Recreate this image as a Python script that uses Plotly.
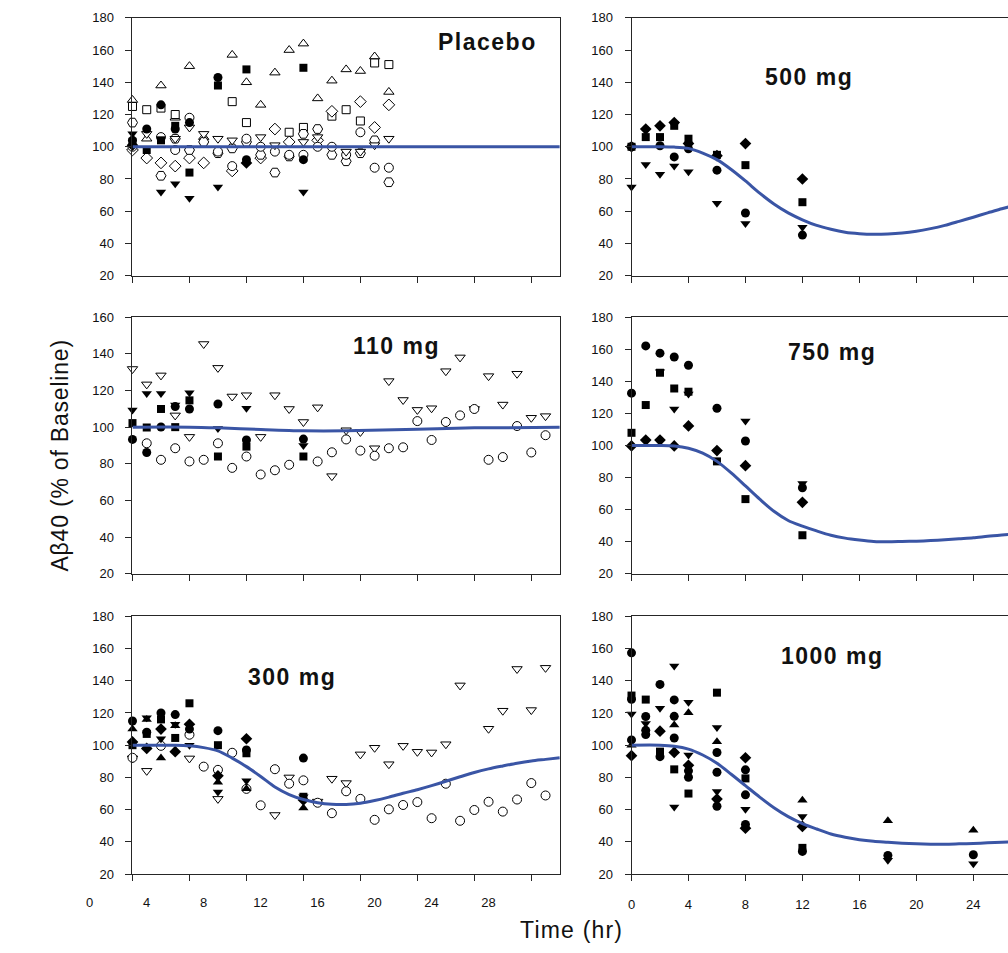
import plotly.graph_objects as go

W, H = 1008, 953
FONT = "Liberation Sans, Arial, Helvetica, sans-serif"
FIT_COLOR = "#3A55A5"
AXIS_COLOR = "#262626"

# ---------------------------------------------------------------- sampling times (hr)
T_SPARSE = [0, 1, 2, 3, 4, 6, 8, 12]
T_HOURLY_19 = [0, 1, 2, 3, 4, 5, 6, 7, 8, 9, 10, 11, 12, 13, 14, 15, 16, 17, 18]
T_HOURLY_30 = [0, 1, 2, 3, 4, 5, 6, 7, 8, 9, 10, 11, 12, 13, 14, 15, 16, 17, 18, 19,
               20, 21, 22, 23, 24, 25, 26, 27, 28, 29]

# ---------------------------------------------------------------- Placebo
PL_OPEN_TRI_UP = [129, 105, 138, 118, 150, 106, None, 157, 140, 126, 146, 160, 164, 130, 141, 148, 147, 156, 134]
PL_OPEN_SQUARE = [125, 123, 124, 120, None, None, None, 128, 115, None, None, 109, 112, None, 119, 123, 116, 152, 151]
PL_OPEN_DIAMOND = [98, 93, 90, 88, 93, 90, None, 85, None, 93, 111, 103, None, 104, 122, None, 128, 112, 126]
PL_OPEN_HEXAGON = [115, None, 82, 105, 98, 103, 96, 99, 103, 95, 84, 94, 108, 111, 95, 91, 96, 104, 78]
PL_OPEN_CIRCLE = [100, None, 106, 98, 118, None, 97, 88, 105, 100, 97, 95, 95, 100, 100, 95, 109, 87, 87]
PL_OPEN_TRI_DOWN = [None, 108, None, 105, 112, 108, 105, 104, None, 106, 101, None, 103, 106, None, 97, 97, 101, 105]
PL_FILL_CIRCLE = [104, 111, 126, 111, 115, 143, 92, 92]
PL_FILL_SQUARE = [103, 98, 104, 113, 84, 138, 148, 149]
PL_FILL_TRI_DOWN = [108, None, 72, 77, 68, 75, None, 72]
PL_FILL_DIAMOND = [101, None, None, None, None, None, 90, None]
PL_FIT_T = [0, 30]
PL_FIT_V = [100, 100]

# ---------------------------------------------------------------- 110 mg
D110_OPEN_TRI_DOWN = [131.7, 123.3, 128.2, 106.4, 94.7, 145.3, 132.3, 116.7, 117.4, 94.7,
                      117.4, 109.9, 102.8, 110.8, 73.3, 98.3, 97.4, 88.5, 125.1, 114.8,
                      109.4, 110.3, 130.5, 138.0, 109.9, 127.8, 112.3, 129.1, 105.1, 106.0]
D110_OPEN_CIRCLE = [None, 91.2, 82.2, 88.5, 81.3, 82.2, 91.2, 77.8, 84.0, 74.2,
                    76.5, 79.5, None, 81.3, 86.3, 93.3, 87.2, 84.4, 88.5, 89.0,
                    103.3, 93.0, 102.8, 106.4, 109.9, 82.2, 83.7, 100.6, 86.2, 95.6]
D110_FILL_TRI_DOWN = [109.4, 118.3, 118.3, 112.0, 118.7, 99.2, 110.3, 90.0]
D110_FILL_SQUARE = [102.2, 99.8, 109.9, 100.0, 114.6, 84.0, 89.4, 84.0]
D110_FILL_CIRCLE = [93.3, 86.2, 100.1, 111.2, 109.9, 112.6, 93.0, 93.5]
F110_T = [0, 4, 6, 9, 12, 15, 20, 24, 30]
F110_V = [100, 100, 99.6, 98.7, 98.0, 98.0, 98.9, 99.6, 99.9]

# ---------------------------------------------------------------- 300 mg
D300_OPEN_CIRCLE = [92.2, None, 99.6, None, 106.5, 86.7, 84.7, 95.3, 72.9, 62.7,
                    85.1, 76.1, 78.2, 64.3, 57.8, 71.4, 66.7, 53.7, 60.2, 62.9,
                    64.7, 54.7, 76.1, 53.1, 59.8, 64.9, 58.8, 66.3, 76.5, 68.8]
D300_OPEN_TRI_DOWN = [91.8, 84.1, None, None, 91.8, None, 66.7, None, None, None,
                      56.7, 80.0, None, 65.0, 79.2, 76.5, 94.3, 98.4, 88.2, 99.6,
                      95.9, 95.5, 100.6, 137.1, None, 110.2, 121.4, 147.3, 121.8, 148.0]
D300_FILL_CIRCLE = [115, 108, 120, 119, 110, 109, 97, 92]
D300_FILL_SQUARE = [100, 107, 116, 104.5, 126, 100, 95, 68]
D300_FILL_TRI_UP = [110, 116, 92, 112, None, 77, 73, 61]
D300_FILL_TRI_DOWN = [None, 117, 104, 113, 100, 71, 78, 68]
D300_FILL_DIAMOND = [102, 98, 110, 96, 113, 81, 104, 66]
F300_T = [0, 1, 2, 3, 4, 5, 6, 7, 8, 9, 10, 11, 12, 13, 14, 15, 16, 17, 18, 19,
          20, 21, 22, 23, 24, 25, 26, 27, 28, 29, 30]
F300_V = [100, 100, 100, 100, 99.6, 98.5, 96.5, 92.0, 86.7, 80.6, 74.1, 69.4, 66.3, 64.3,
          63.3, 63.2, 64.0, 65.7, 67.8, 70.2, 72.4, 74.9, 77.6, 80.4, 83.1, 85.3, 87.1,
          88.8, 90.2, 91.2, 92.2]

# ---------------------------------------------------------------- 500 mg
D500_FILL_CIRCLE = [100, None, 100.6, 93.7, 98.8, 85.5, 58.9, 45.2]
D500_FILL_SQUARE = [100, 106, 106, 113, 105, 95, 88.6, 65.6]
D500_FILL_TRI_DOWN = [75, 89, 83, 88, 84.5, 65, 52.4, 50]
D500_FILL_DIAMOND = [100, 111, 113, 115, 102, 94.5, 102, 80]
F500_T = [0, 2, 3, 4, 5, 6, 7, 8, 9, 10, 11, 12, 13, 14, 15, 16, 17, 18, 19, 20,
          21, 22, 23, 24, 25, 26, 27]
F500_V = [100, 100, 99.8, 99.0, 96.1, 92.0, 85.9, 78.8, 71.2, 64.5, 59.0, 54.7, 51.2,
          48.8, 47.0, 46.1, 45.7, 45.9, 46.5, 47.6, 49.2, 51.2, 53.7, 56.3, 59.0, 61.5, 64.0]

# ---------------------------------------------------------------- 750 mg
D750_FILL_CIRCLE = [132.6, 162.0, 157.5, 155.1, 150.0, 123.2, 102.8, 73.7]
D750_FILL_SQUARE = [107.9, 125.2, 145.3, 135.5, 133.5, 90.1, 66.6, 44.1]
D750_FILL_DIAMOND = [99.7, 103.4, 103.4, 99.7, 112.2, 96.8, 87.4, 64.6]
D750_FILL_TRI_DOWN = [None, None, 146.0, 122.8, 132.0, None, 115.2, 76.4]
F750_T = [0, 2, 3, 4, 5, 6, 7, 8, 9, 10, 11, 12, 13, 14, 15, 16, 17, 18, 19, 20,
          21, 22, 23, 24, 25, 26, 27]
F750_V = [100, 100, 99.7, 98.3, 95.2, 90.1, 82.9, 74.8, 66.6, 59.0, 53.3, 49.8, 46.8,
          44.1, 42.3, 41.1, 40.2, 40.0, 40.2, 40.4, 40.8, 41.3, 41.9, 42.5, 43.5, 44.3, 45.0]

# ---------------------------------------------------------------- 1000 mg
D1000_CIRCLE_T = [0, 0, 0, 1, 1, 1, 2, 2, 3, 3, 3, 4, 4, 6, 6, 6, 8, 8, 8, 12, 18, 24]
D1000_CIRCLE_V = [157.3, 128.5, 103.3, 117.8, 109.2, 106.6, 137.7, 92.9, 128.1, 117.9, 104.5,
                  84.1, 80.1, 95.5, 83.2, 62.1, 84.7, 69.2, 50.8, 34.1, 31.6, 32.0]
D1000_SQUARE_T = [0, 1, 2, 3, 4, 6, 8, 12]
D1000_SQUARE_V = [130.8, 128.3, 96.0, 85.0, 70.0, 132.6, 79.4, 36.3]
D1000_TRI_DOWN_T = [0, 1, 2, 3, 3, 4, 4, 6, 6, 8, 12, 18, 24]
D1000_TRI_DOWN_V = [119.4, 113.5, 123.0, 149.2, 61.6, 126.7, 93.9, 111.0, 71.2, 60.3, 55.7, 28.6, 26.5]
D1000_TRI_UP_T = [0, 3, 4, 6, 12, 18, 24]
D1000_TRI_UP_V = [100.0, 112.6, 120.2, 102.2, 65.9, 53.1, 47.3]
D1000_DIAMOND_T = [0, 2, 3, 4, 6, 8, 8, 12]
D1000_DIAMOND_V = [93.5, 108.7, 95.5, 87.5, 66.6, 92.2, 48.5, 49.6]
F1000_T = [0, 2, 3, 4, 5, 6, 7, 8, 9, 10, 11, 12, 13, 14, 15, 16, 17, 18, 19, 20,
           21, 22, 23, 24, 25, 26, 27]
F1000_V = [100, 100, 99.4, 97.6, 93.9, 88.8, 82.0, 74.9, 67.8, 61.2, 55.7, 51.4, 48.0,
           44.9, 42.9, 41.4, 40.4, 39.8, 39.2, 38.8, 38.6, 38.6, 38.8, 39.0, 39.4, 39.8, 40.2]

# ---------------------------------------------------------------- tick labels
X_TICKS = [0, 4, 8, 12, 16, 20, 24, 28]
Y_TICKS_180 = [20, 40, 60, 80, 100, 120, 140, 160, 180]
Y_TICKS_160 = [20, 40, 60, 80, 100, 120, 140, 160]

# ---------------------------------------------------------------- marker styles
_FILL = dict(color="black", line=dict(width=0))
_OPEN = dict(color="white", line=dict(color="black", width=1))
MARKERS = {
    "fc": dict(symbol="circle", size=9, **_FILL),
    "fs": dict(symbol="square", size=8, **_FILL),
    "fu": dict(symbol="triangle-up", size=9, **_FILL),
    "fd": dict(symbol="triangle-down", size=9, **_FILL),
    "fk": dict(symbol="diamond", size=9, **_FILL),
    "oc": dict(symbol="circle", size=9, **_OPEN),
    "os": dict(symbol="square", size=8, **_OPEN),
    "ou": dict(symbol="triangle-up", size=9, **_OPEN),
    "od": dict(symbol="triangle-down", size=9, **_OPEN),
    "ok": dict(symbol="diamond", size=9, **_OPEN),
    "oh": dict(symbol="hexagon2", size=10, **_OPEN),
}

PANELS = [
    dict(label="Placebo", label_px=(485, 36), yrange=(20, 180), yticks=Y_TICKS_180,
         series=[("ou", T_HOURLY_19, PL_OPEN_TRI_UP), ("os", T_HOURLY_19, PL_OPEN_SQUARE),
                 ("ok", T_HOURLY_19, PL_OPEN_DIAMOND), ("oh", T_HOURLY_19, PL_OPEN_HEXAGON),
                 ("oc", T_HOURLY_19, PL_OPEN_CIRCLE), ("od", T_HOURLY_19, PL_OPEN_TRI_DOWN),
                 ("fd", T_SPARSE, PL_FILL_TRI_DOWN), ("fk", T_SPARSE, PL_FILL_DIAMOND),
                 ("fs", T_SPARSE, PL_FILL_SQUARE), ("fc", T_SPARSE, PL_FILL_CIRCLE)],
         fit=(PL_FIT_T, PL_FIT_V)),
    dict(label="500 mg", label_px=(808, 71), yrange=(20, 180), yticks=Y_TICKS_180,
         series=[("fd", T_SPARSE, D500_FILL_TRI_DOWN), ("fk", T_SPARSE, D500_FILL_DIAMOND),
                 ("fs", T_SPARSE, D500_FILL_SQUARE), ("fc", T_SPARSE, D500_FILL_CIRCLE)],
         fit=(F500_T, F500_V)),
    dict(label="110 mg", label_px=(394, 344), yrange=(20, 160), yticks=Y_TICKS_160,
         series=[("od", T_HOURLY_30, D110_OPEN_TRI_DOWN), ("oc", T_HOURLY_30, D110_OPEN_CIRCLE),
                 ("fd", T_SPARSE, D110_FILL_TRI_DOWN), ("fs", T_SPARSE, D110_FILL_SQUARE),
                 ("fc", T_SPARSE, D110_FILL_CIRCLE)],
         fit=(F110_T, F110_V)),
    dict(label="750 mg", label_px=(831, 351), yrange=(20, 180), yticks=Y_TICKS_180,
         series=[("fd", T_SPARSE, D750_FILL_TRI_DOWN), ("fk", T_SPARSE, D750_FILL_DIAMOND),
                 ("fs", T_SPARSE, D750_FILL_SQUARE), ("fc", T_SPARSE, D750_FILL_CIRCLE)],
         fit=(F750_T, F750_V)),
    dict(label="300 mg", label_px=(289, 681), yrange=(20, 180), yticks=Y_TICKS_180,
         series=[("od", T_HOURLY_30, D300_OPEN_TRI_DOWN), ("oc", T_HOURLY_30, D300_OPEN_CIRCLE),
                 ("fu", T_SPARSE, D300_FILL_TRI_UP), ("fd", T_SPARSE, D300_FILL_TRI_DOWN),
                 ("fk", T_SPARSE, D300_FILL_DIAMOND), ("fs", T_SPARSE, D300_FILL_SQUARE),
                 ("fc", T_SPARSE, D300_FILL_CIRCLE)],
         fit=(F300_T, F300_V)),
    dict(label="1000 mg", label_px=(832, 659), yrange=(20, 180), yticks=Y_TICKS_180,
         series=[("fu", D1000_TRI_UP_T, D1000_TRI_UP_V), ("fd", D1000_TRI_DOWN_T, D1000_TRI_DOWN_V),
                 ("fk", D1000_DIAMOND_T, D1000_DIAMOND_V), ("fs", D1000_SQUARE_T, D1000_SQUARE_V),
                 ("fc", D1000_CIRCLE_T, D1000_CIRCLE_V)],
         fit=(F1000_T, F1000_V)),
]

# plot-area geometry in pixels
ROW_PX = [(11, 273), (315, 576), (619, 881)]
COL_PX = [(129, 558), (630, 1008)]
PX_PER_HR = 14.3
X_RANGE = [(0, 30), (0, (COL_PX[1][1] - COL_PX[1][0]) / PX_PER_HR)]

fig = go.Figure()
layout = dict(
    width=W, height=H, margin=dict(l=0, r=0, t=0, b=0),
    paper_bgcolor="white", plot_bgcolor="rgba(0,0,0,0)",
    showlegend=False, font=dict(family=FONT, color="#111111"),
    annotations=[],
)

tick_font = dict(family=FONT, size=13, color="#111111")

for i, p in enumerate(PANELS):
    row, col = divmod(i, 2)
    sfx = "" if i == 0 else str(i + 1)
    xa, ya = "x" + sfx, "y" + sfx
    for key, t, v in p["series"]:
        fig.add_trace(go.Scatter(x=t, y=v, mode="markers", marker=MARKERS[key],
                                 xaxis=xa, yaxis=ya, cliponaxis=False, hoverinfo="x+y"))
    ft, fv = p["fit"]
    fig.add_trace(go.Scatter(x=ft, y=fv, mode="lines",
                             line=dict(color=FIT_COLOR, width=3, shape="spline", smoothing=0.8),
                             xaxis=xa, yaxis=ya, hoverinfo="skip"))

    x0, x1 = COL_PX[col]
    y0, y1 = ROW_PX[row]
    layout["xaxis" + sfx] = dict(
        domain=[x0 / W, x1 / W], range=list(X_RANGE[col]), anchor=ya,
        tickmode="array", tickvals=X_TICKS, ticks="outside", ticklen=6, tickcolor=AXIS_COLOR,
        showline=True, linecolor=AXIS_COLOR, linewidth=1, mirror=True,
        showgrid=False, zeroline=False,
        showticklabels=(row == 2 and col == 1), tickfont=tick_font, ticklabelstandoff=12,
    )
    layout["yaxis" + sfx] = dict(
        domain=[1 - y1 / H, 1 - y0 / H], range=list(p["yrange"]), anchor=xa,
        tickmode="array", tickvals=p["yticks"], ticks="outside", ticklen=6, tickcolor=AXIS_COLOR,
        showline=True, linecolor=AXIS_COLOR, linewidth=1, mirror=(col == 0),
        showgrid=False, zeroline=False, tickfont=tick_font, ticklabelstandoff=9,
    )
    cx, cy = p["label_px"]
    layout["annotations"].append(dict(
        text='<span style="letter-spacing:1.5px">%s</span>' % p["label"],
        x=cx / W, y=1 - cy / H, xref="paper", yref="paper",
        xanchor="center", yanchor="middle", showarrow=False,
        font=dict(family=FONT, size=23, color="#111111", weight="bold"),
    ))

# time labels under the lower-left panel sit on their own axis, offset from the tick marks
fig.add_trace(go.Scatter(x=[], y=[], xaxis="x7", yaxis="y5", mode="markers", hoverinfo="skip"))
LABEL_AXIS_LEFT_PX = 86
layout["xaxis7"] = dict(
    domain=[LABEL_AXIS_LEFT_PX / W, (LABEL_AXIS_LEFT_PX + 30 * PX_PER_HR) / W],
    range=[0, 30], anchor="y5", tickmode="array", tickvals=X_TICKS,
    ticks="", showline=False, showgrid=False, zeroline=False,
    tickfont=tick_font, ticklabelstandoff=19,
)

layout["annotations"] += [
    dict(text='<span style="letter-spacing:0.8px">A\u03b240 (% of Baseline)</span>',
         x=56 / W, y=1 - 455 / H, xref="paper", yref="paper",
         textangle=-90, showarrow=False, xanchor="center", yanchor="middle",
         font=dict(family=FONT, size=23, color="#111111")),
    dict(text='<span style="letter-spacing:1.2px">Time (hr)</span>', x=570 / W, y=1 - 938 / H,
         xref="paper", yref="paper", showarrow=False, xanchor="center", yanchor="middle",
         font=dict(family=FONT, size=23, color="#111111")),
]

fig.update_layout(**layout)
fig.write_html("out.html")
